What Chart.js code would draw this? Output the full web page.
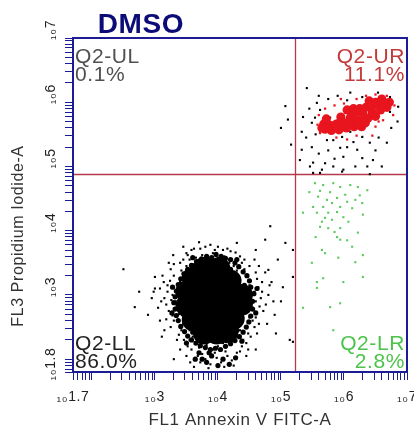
<!DOCTYPE html>
<html><head><meta charset="utf-8">
<script src="https://cdn.jsdelivr.net/npm/chart.js@4.4.1/dist/chart.umd.min.js"></script>
<style>html,body{margin:0;padding:0;background:#fff;overflow:hidden}</style>
</head><body>
<canvas id="c" width="414" height="431"></canvas>
<script>
// ---- values (log10 of fluorescence intensity) ----
const chartTitle = 'DMSO';
const xAxisTitle = 'FL1 Annexin V FITC-A';
const yAxisTitle = 'FL3 Propidium Iodide-A';
const xRangeExp = [1.7, 7];
const yRangeExp = [1.8, 7];
const xTickExps = [1.7, 3, 4, 5, 6, 7];
const yTickExps = [1.8, 3, 4, 5, 6, 7];
const gateExp = [5.22, 4.88];               // quadrant gate (FL1, FL3)
const quadNames = ['Q2-UL', 'Q2-UR', 'Q2-LL', 'Q2-LR'];
const quadPct = [0.1, 11.1, 86.0, 2.8];

// dense core of the live-cell population (Q2-LL)
const llCore = [[3.6,3.26],[3.8,3.28],[4.0,3.26],[4.2,3.22],
 [3.5,3.05],[3.72,3.05],[3.95,3.05],[4.18,3.05],[4.38,3.0],
 [3.5,2.83],[3.72,2.83],[3.95,2.83],[4.18,2.83],[4.38,2.85],
 [3.6,2.61],[3.82,2.61],[4.05,2.61],[4.25,2.63],
 [3.78,2.4],[3.98,2.4],[4.15,2.42],[3.78,3.42],[4.02,3.42]];
// ragged edge of that core
const llHalo = [[4.55,2.9],[4.57,3.02],[4.52,3.12],[4.5,3.22],[4.46,3.3],[4.4,3.36],[4.33,3.44],[4.27,3.5],[4.2,3.55],[4.12,3.57],[4.05,3.6],[3.97,3.63],[3.9,3.58],[3.82,3.6],[3.74,3.56],[3.66,3.52],[3.58,3.46],[3.52,3.4],[3.46,3.33],[3.41,3.25],[3.37,3.16],[3.34,3.06],[3.32,2.97],[3.3,2.88],[3.32,2.78],[3.34,2.68],[3.37,2.6],[3.41,2.51],[3.47,2.43],[3.52,2.36],[3.58,2.3],[3.65,2.25],[3.72,2.21],[3.8,2.18],[3.88,2.15],[3.96,2.17],[4.04,2.15],[4.12,2.2],[4.2,2.24],[4.27,2.29],[4.34,2.35],[4.4,2.42],[4.45,2.5],[4.49,2.58],[4.52,2.67],[4.55,2.78],
 [4.45,2.95],[4.42,3.15],[3.42,2.9],[3.45,3.1],[3.45,2.7],[3.6,2.42],[4.3,2.45],[4.2,3.4],[3.7,3.42],[3.95,3.5],[3.9,2.3],[4.05,2.28],
 [3.7,2.1],[3.75,2.0],[3.82,1.95],[3.9,2.05],[4.0,1.9],[4.08,2.0],[4.18,1.92],[4.28,2.02],[3.64,2.0],[3.86,2.1],
 [4.62,3.1],[4.6,2.72],[3.28,3.12],[3.27,2.72],[3.6,3.58],[4.3,3.55],[3.5,2.25],[4.38,2.28]];
// scattered black events
const blackDots = [[3.3,3.3],[3.35,3.1],[3.33,2.9],[3.38,2.7],[3.42,3.38],[3.45,2.55],[3.5,3.45],[3.55,2.45],[3.4,3.2],[3.36,2.8],[3.28,3.0],[3.44,2.95],
 [3.55,3.55],[3.65,3.58],[3.75,3.62],[3.85,3.56],[3.92,3.65],[4.0,3.58],[4.1,3.6],[4.18,3.5],[4.25,3.45],[4.3,3.38],[3.68,3.5],[3.95,3.7],[4.08,3.7],[3.6,3.48],
 [4.45,3.3],[4.5,3.15],[4.52,2.98],[4.55,2.8],[4.5,2.65],[4.45,2.5],[4.42,3.4],[4.58,3.05],[4.6,2.9],[4.55,2.6],[4.48,2.4],[4.62,3.25],
 [3.55,2.3],[3.65,2.25],[3.7,2.18],[3.82,2.22],[3.9,2.28],[4.0,2.2],[4.08,2.25],[4.18,2.28],[4.28,2.35],[4.35,2.45],[3.6,2.35],[3.95,2.1],[4.12,2.12],[3.75,2.08],
 [3.2,3.15],[3.15,2.95],[3.22,2.75],[3.25,3.4],[3.12,3.3],[3.3,2.6],[3.25,2.5],[3.18,2.85],[3.08,3.1],[3.05,2.8],
 [3.5,3.65],[3.62,3.72],[3.8,3.75],[4.2,3.68],[4.35,3.6],[4.42,3.55],[3.45,3.55],
 [4.65,3.45],[4.7,3.2],[4.68,2.95],[4.72,2.75],[4.65,2.55],[4.75,3.35],[4.8,3.0],[4.62,2.4],[4.78,2.55],[4.85,3.2],[4.88,2.9],
 [3.58,2.15],[3.68,2.05],[3.8,2.0],[3.88,1.92],[3.72,1.95],[3.98,2.02],[4.05,1.95],[4.15,2.05],[4.22,1.98],[4.3,2.1],[4.38,2.2],[3.62,1.88],[3.85,1.86],[4.1,1.88],[4.25,1.9],[3.5,2.05],[4.45,2.05],[3.92,2.15],[4.02,2.35],[4.4,2.3],
 [3.2,3.05],[3.26,2.92],[3.18,2.62],[3.24,3.22],[3.28,2.68],[3.14,3.2],[3.1,2.9],[3.3,3.48],[3.4,3.5],[3.52,3.62],[3.58,3.7],[3.72,3.72],[3.88,3.78],[4.0,3.75],[4.15,3.72],[4.28,3.66],[4.38,3.5],[4.5,3.45],[4.6,3.35],[4.64,3.12],[4.66,2.82],[4.6,2.65],[4.58,2.5],[4.52,2.35],[4.45,2.25],[4.35,2.12],[3.46,2.3],[3.42,2.45],[3.38,2.38],[3.52,2.2],[3.56,1.95],[4.48,2.15],[4.7,3.05],[4.76,2.85],[4.82,3.15],[4.58,3.55],[3.22,3.5],[3.08,2.6],[2.98,3.05],[3.45,3.75],
 [2.68,2.81],[2.89,2.69],[3.0,3.1],[3.0,3.28],[3.29,3.62],[3.11,2.35],[2.95,2.95],[2.75,3.05],[3.15,2.45],[3.35,2.3],[3.4,2.15],[4.75,3.86],[5.07,3.81],[5.03,3.12],[4.9,2.69],[5.14,2.3],[4.3,3.81],[4.8,3.39],[4.95,3.55],[4.6,3.7],[3.7,3.82],[5.0,2.9],[4.92,2.4],[3.3,2.0],[4.6,2.15],[2.5,3.4],
 [5.41,6.22],[5.57,5.99],[5.35,5.77],[5.49,5.68],[5.33,5.54],[5.49,5.3],[5.33,5.26],[5.73,5.41],[5.83,5.41],[5.97,5.46],[5.94,5.29],[5.99,5.15],[6.21,5.26],[6.41,5.37],[6.68,5.37],[6.46,5.1],[6.37,5.0],[6.29,5.13],[6.6,5.0],[6.18,5.0],[5.99,4.95],[5.83,5.0],[5.51,5.06],[5.65,4.95],[5.46,5.0],
 [6.73,6.08],[6.54,6.15],[6.29,6.08],[6.05,6.03],[6.41,6.0],[6.73,5.85],[6.86,5.93],[5.67,5.62],[5.78,5.76],[6.1,5.54],[6.29,5.46],[5.62,5.88],[5.54,5.76],
 [5.07,5.94],[5.11,5.73],[5.0,5.6],[5.16,5.34],[4.83,4.07],[5.19,3.7],[5.19,3.28],[5.19,2.27],[5.51,4.9],[5.62,4.9],[5.97,4.92],[6.41,4.88],
 [5.9,5.72],[6.05,5.62],[6.25,5.8],[6.45,5.92],[6.6,5.88],[6.15,5.9],
 [5.45,5.9],[5.6,6.1],[5.75,6.05],[5.9,6.1],[6.1,6.15],[5.4,5.45],[5.55,5.5],[5.6,5.2],[5.75,5.25],[5.85,5.12],[6.05,5.3],[6.15,5.38],[6.5,5.25],[6.55,5.45],[6.75,5.6],[6.85,5.7],[5.3,5.1],[5.7,5.05]];
// late apoptotic / necrotic population (Q2-UR)
const urCore = [[5.68,5.66],[5.78,5.64],[5.88,5.66],[5.98,5.68],[6.08,5.7],[6.18,5.72],[6.28,5.73],[6.38,5.75],[5.8,5.56],[5.92,5.57],[6.04,5.6],[6.16,5.62],[6.28,5.62],[5.72,5.74],[5.95,5.77],[6.15,5.8],
 [6.05,5.88],[6.15,5.9],[6.25,5.9],[6.35,5.92],[6.45,5.94],[6.55,5.96],[6.65,5.98],[6.72,6.0],[6.3,5.82],[6.45,5.84],[6.58,5.88],[6.4,6.02],[6.6,6.05],
 [5.7,5.58],[5.85,5.6],[6.0,5.64],[6.1,5.76],[6.22,5.66],[6.34,5.68],[6.5,5.78],[6.68,5.92],[6.62,6.0],[6.5,6.0],[6.2,5.85],[5.65,5.6]];
const urDots = [[5.6,5.8],[5.7,5.9],[5.85,5.95],[5.95,6.05],[6.2,6.05],[6.5,6.12],[6.8,5.95],[6.78,5.8],[6.62,5.72],[6.5,5.62],[6.45,5.48],[6.2,5.48],[5.88,5.45],[5.62,5.52],[6.05,5.42],[6.35,6.1],[6.68,6.1],[5.58,5.65],[6.55,5.7],[6.0,5.98]];
// early apoptotic population (Q2-LR)
const lrDots = [[5.54,4.74],[5.67,4.71],[5.83,4.74],[5.94,4.68],[6.1,4.71],[6.22,4.68],[6.37,4.63],[5.59,4.53],[5.73,4.48],[5.89,4.51],[6.02,4.56],[6.18,4.48],[6.29,4.43],[5.51,4.37],[5.67,4.37],[5.81,4.43],[5.94,4.37],[6.13,4.35],[5.35,4.28],[5.57,4.28],[5.75,4.28],[5.89,4.29],[5.99,4.21],[5.65,4.14],[5.81,4.17],[6.07,4.14],[5.62,4.06],[5.75,4.04],[5.94,4.04],[6.22,3.97],[5.89,3.9],[5.94,3.86],[5.65,3.7],[5.7,3.65],[6.13,3.75],[5.91,3.58],[6.3,3.62],[5.49,3.5],[6.18,3.51],[6.3,3.28],[5.67,3.26],[5.57,3.2],[5.99,3.2],[5.57,3.11],[5.94,2.87],[5.78,2.81],[5.35,2.8],[5.83,2.45],
 [5.45,4.6],[5.78,4.6],[6.05,4.45],[5.7,4.2],[6.3,4.25],[5.85,3.98],[6.05,3.85],[5.55,3.9],[6.25,4.55],[5.62,4.62]];

// ---- build ----
const toPts = arr => arr.map(p => ({x: Math.pow(10, p[0]), y: Math.pow(10, p[1])}));
function logTicks(r) {
  const lo = Math.pow(10, r[0]), hi = Math.pow(10, r[1]);
  const t = [{value: lo}];
  for (let n = Math.floor(r[0]); n < r[1]; n++)
    for (let k = 1; k < 10; k++) { const v = k * Math.pow(10, n); if (v > lo * 1.001 && v < hi * 0.999) t.push({value: v}); }
  t.push({value: hi});
  return t;
}
function labelFor(exps) {
  return v => { const e = Math.log10(v); const m = exps.find(x => Math.abs(x - e) < 1e-6); return m === undefined ? '' : '\u2081\u2080' + m; };
}
const NAVY = '#1c1c96';
const deco = {
  id: 'deco',
  beforeDraw(chart) { chart.ctx.letterSpacing = '0.6px'; },
  beforeDatasetsDraw(chart) {
    const {ctx, chartArea: a, scales: {x, y}} = chart;
    const gx = Math.round(x.getPixelForValue(Math.pow(10, gateExp[0]))) + 0.5;
    const gy = Math.round(y.getPixelForValue(Math.pow(10, gateExp[1]))) + 0.5;
    ctx.save();
    ctx.strokeStyle = '#b5384c'; ctx.lineWidth = 1.3;
    ctx.beginPath(); ctx.moveTo(gx, a.top); ctx.lineTo(gx, a.bottom);
    ctx.moveTo(a.left, gy); ctx.lineTo(a.right, gy); ctx.stroke();
    ctx.restore();
  },
  afterDatasetsDraw(chart) {
    const {ctx, chartArea: a} = chart;
    ctx.save();
    ctx.strokeStyle = NAVY; ctx.lineWidth = 2;
    ctx.strokeRect(a.left, a.top, a.right - a.left, a.bottom - a.top);
    ctx.font = '21px Arial'; ctx.textBaseline = 'alphabetic';
    const cols = ['#505050', '#c43a3a', '#222222', '#4cc44c'];
    const pos = [[a.left + 2, a.top + 25, 'left'], [a.right - 2, a.top + 25, 'right'],
                 [a.left + 2, a.bottom - 22, 'left'], [a.right - 2, a.bottom - 22, 'right']];
    quadNames.forEach((n, i) => {
      ctx.fillStyle = cols[i]; ctx.textAlign = pos[i][2];
      ctx.fillText(n, pos[i][0], pos[i][1]);
      ctx.fillText(quadPct[i].toFixed(1) + '%', pos[i][0], pos[i][1] + 18);
    });
    // title
    ctx.fillStyle = '#0c0c78'; ctx.font = 'bold 28px Arial'; ctx.textAlign = 'center';
    ctx.fillText(chartTitle, 141, 33);
    // y axis title
    ctx.translate(19, 236); ctx.rotate(-Math.PI / 2);
    ctx.fillStyle = '#333'; ctx.font = '16px Arial'; ctx.textAlign = 'center'; ctx.textBaseline = 'middle';
    ctx.fillText(yAxisTitle, 0, 0);
    ctx.restore();
  }
};
const dot = (data, color, r, style) => ({data: toPts(data), backgroundColor: color, borderWidth: 0, pointRadius: r, pointHoverRadius: r, pointStyle: style});
new Chart(document.getElementById('c'), {
  type: 'scatter',
  data: {datasets: [
    dot(lrDots, '#5fc95f', 1.5, 'rect'),
    dot(urDots, '#e8141e', 1.6, 'rect'),
    dot(urCore, '#e8141e', 4.6, 'circle'),
    dot(blackDots, '#000000', 1.5, 'rect'),
    dot(llHalo, '#000000', 2.6, 'circle'),
    dot(llCore, '#000000', 11, 'circle')
  ]},
  options: {
    responsive: false, animation: false, devicePixelRatio: 1,
    layout: {autoPadding: false, padding: {top: 38, right: 7, bottom: 0, left: 0}},
    plugins: {legend: {display: false}, tooltip: {enabled: false}},
    events: [],
    scales: {
      x: {
        type: 'logarithmic', min: Math.pow(10, xRangeExp[0]), max: Math.pow(10, xRangeExp[1]),
        afterBuildTicks: s => { s.ticks = logTicks(xRangeExp); },
        afterFit: s => { s.height = 59; s.paddingLeft = 0; s.paddingRight = 0; },
        grid: {drawOnChartArea: false, drawTicks: true, tickLength: 8, color: NAVY},
        border: {display: true, color: NAVY, width: 2},
        ticks: {autoSkip: false, maxRotation: 0, minRotation: 0, padding: 9, color: '#222', font: {family: 'Arial', size: 14}, callback: labelFor(xTickExps)},
        title: {display: true, text: xAxisTitle, color: '#333', font: {family: 'Arial', size: 17}, padding: {top: 0, bottom: 0}}
      },
      y: {
        type: 'logarithmic', min: Math.pow(10, yRangeExp[0]), max: Math.pow(10, yRangeExp[1]),
        afterBuildTicks: s => { s.ticks = logTicks(yRangeExp); },
        afterFit: s => { s.width = 73; s.paddingTop = 0; s.paddingBottom = 0; },
        grid: {drawOnChartArea: false, drawTicks: true, tickLength: 8, color: NAVY},
        border: {display: true, color: NAVY, width: 2},
        ticks: {autoSkip: false, minRotation: 90, maxRotation: 90, crossAlign: 'center', labelOffset: -8, padding: -1, color: '#222', font: {family: 'Arial', size: 14}, callback: labelFor(yTickExps)}
      }
    }
  },
  plugins: [deco]
});
</script>
</body></html>
